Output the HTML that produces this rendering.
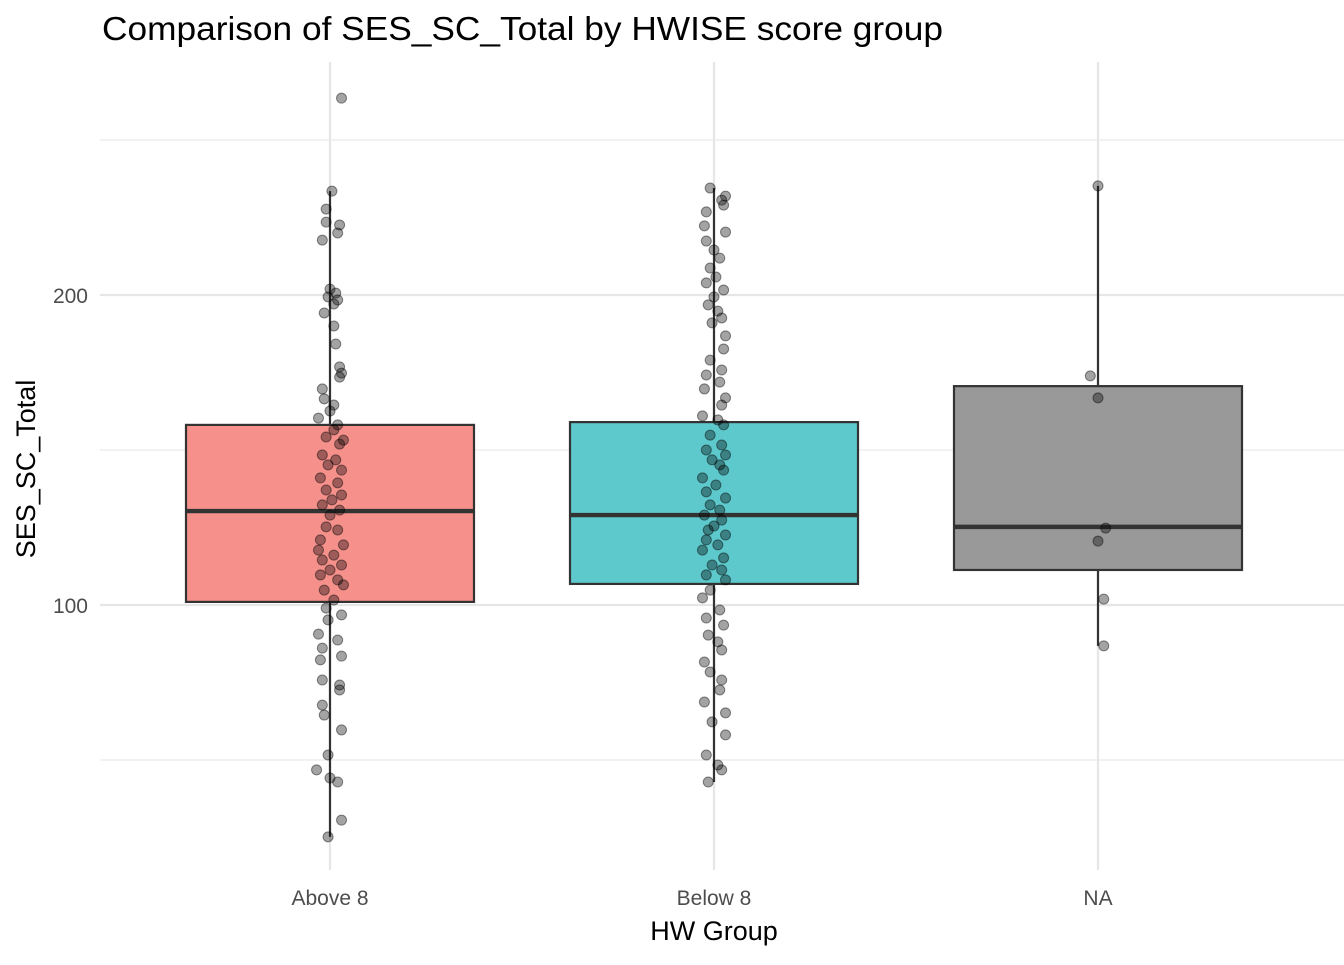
<!DOCTYPE html>
<html><head><meta charset="utf-8"><style>
body{margin:0;background:#fff;}
svg text{font-family:"Liberation Sans",Arial,sans-serif;}
</style></head><body>
<svg id="chart" width="1344" height="960" xmlns="http://www.w3.org/2000/svg">
<text x="102" y="40" font-size="33" fill="#000" textLength="841" lengthAdjust="spacingAndGlyphs">Comparison of SES_SC_Total by HWISE score group</text>
<g id="grid"></g><g id="boxes"></g><g id="points"></g><g id="axes"></g>
<text x="714" y="940" font-size="27" text-anchor="middle" fill="#000">HW Group</text>
<text transform="translate(35,469) rotate(-90)" font-size="27" text-anchor="middle" fill="#000">SES_SC_Total</text>
</svg>
<script>
const categories=["Above 8","Below 8","NA"];
const boxFills=["#f6908b","#5dc9cc","#999999"];
const q1=[101,106.8,111.3];
const medians=[130.3,129,125.2];
const q3=[158.1,159,170.6];
const whiskLo=[25.2,42.9,86.8];
const whiskHi=[233.5,234.5,235.2];
const yTicks=[100,200];
const yMinor=[50,150,250];
const pts0=[263.5,233.5,227.7,223.5,222.6,220,217.7,201.9,200.6,199.4,198.4,197.1,194.2,190,184.2,176.8,174.8,173.5,169.7,166.5,164.5,162.6,160.3,158.1,156.5,154.2,153.2,151.9,148.4,146.8,145.2,143.5,141,139.4,137.1,135.5,133.9,132.3,130.6,129,125.2,124.2,121,119.4,117.7,116.1,114.5,112.9,111.3,109.7,108.1,106.5,104.8,101.6,99,96.8,95.2,90.6,88.7,86.1,83.5,82.3,75.8,74.2,72.6,67.7,64.5,59.7,51.6,46.8,44.2,42.9,30.6,25.2];
const pts1=[234.5,231.9,230.6,229,226.8,222.3,220.3,217.4,214.5,211.9,208.7,205.8,203.9,201.6,199.4,196.8,194.8,192.6,191,186.8,182.6,179,175.8,174.2,171.9,169.7,166.8,164.5,161,159.7,158.1,154.8,151.6,150,148.4,146.8,145.2,143.5,141,138.7,136.5,134.5,132.3,130.6,129,127.4,125.5,124.2,122.6,121,119.4,117.7,115.2,112.9,111.3,109.7,108.1,104.8,102.3,98.4,95.8,93.5,90.3,88.1,85.5,81.6,78.4,75.8,72.6,68.7,65.2,62.3,58.1,51.6,48.4,46.8,42.9];
const pts2=[235.2,173.9,166.8,124.8,120.6,101.9,86.8];
const jit0=[0.03,0.005,-0.01,-0.01,0.025,0.02,-0.02,0.0,0.015,-0.005,0.02,0.01,-0.015,0.01,0.015,0.025,0.03,0.025,-0.02,-0.015,0.01,0.0,-0.03,0.02,0.01,-0.01,0.035,0.025,-0.02,0.015,-0.005,0.03,-0.025,0.02,-0.01,0.03,0.005,-0.02,0.025,0.0,-0.01,0.02,-0.025,0.035,-0.03,0.01,-0.02,0.03,0.0,-0.025,0.02,0.035,-0.015,0.01,-0.01,0.03,-0.005,-0.03,0.02,-0.02,0.03,-0.025,-0.02,0.025,0.025,-0.02,-0.015,0.03,-0.005,-0.035,0.0,0.02,0.03,-0.005];
const jit1=[-0.01,0.03,0.02,0.025,-0.02,-0.025,0.03,-0.02,0.0,0.015,-0.01,0.005,-0.02,0.025,0.0,-0.015,0.01,0.02,-0.005,0.03,0.025,-0.01,0.02,-0.02,0.015,-0.025,0.03,0.02,-0.03,0.01,0.025,-0.01,0.02,-0.02,0.03,-0.005,0.015,0.025,-0.03,0.005,-0.02,0.03,-0.01,0.015,-0.025,0.02,0.0,-0.015,0.03,-0.02,0.01,-0.03,0.025,-0.005,0.02,-0.02,0.03,-0.01,-0.03,0.015,-0.02,0.025,-0.015,0.01,0.02,-0.025,-0.01,0.02,0.015,-0.025,0.03,-0.005,0.03,-0.02,0.01,0.02,-0.015];
const jit2=[0.0,-0.02,0.0,0.02,0.0,0.015,0.015];
const pts=[pts0,pts1,pts2], jits=[jit0,jit1,jit2];
const NS="http://www.w3.org/2000/svg";
const X0=100,X1=1344,Y0=62,Y1=870;
const xS=i=>330+i*384;
const yS=v=>605-(v-100)*3.1;
const bw=144;
function mk(tag,attrs,parent){const e=document.createElementNS(NS,tag);for(const k in attrs)e.setAttribute(k,attrs[k]);document.getElementById(parent).appendChild(e);return e;}
yMinor.forEach(v=>{const l=mk('line',{x1:X0,x2:X1,y1:yS(v),y2:yS(v),stroke:'#ebebeb','stroke-width':1.2},'grid');

});
yTicks.forEach(v=>{const l=mk('line',{x1:X0,x2:X1,y1:yS(v),y2:yS(v),stroke:'#e6e6e6','stroke-width':2.2},'grid');


const t=mk('text',{x:88,y:yS(v)+8,'font-size':21,'text-anchor':'end',fill:'#4d4d4d'},'axes');t.textContent=v;

});
categories.forEach((c,i)=>{const l=mk('line',{x1:xS(i),x2:xS(i),y1:Y0,y2:Y1,stroke:'#e6e6e6','stroke-width':2.2},'grid');


const t=mk('text',{x:xS(i),y:905,'font-size':21,'text-anchor':'middle',fill:'#4d4d4d'},'axes');t.textContent=c;


const g=mk('g',{},'boxes');g.id='box'+i;


const w1=mk('line',{x1:xS(i),x2:xS(i),y1:yS(whiskHi[i]),y2:yS(q3[i]),stroke:'#333','stroke-width':2.2},g.id);


const w2=mk('line',{x1:xS(i),x2:xS(i),y1:yS(q1[i]),y2:yS(whiskLo[i]),stroke:'#333','stroke-width':2.2},g.id);


const r=mk('rect',{x:xS(i)-bw,y:yS(q3[i]),width:2*bw,height:yS(q1[i])-yS(q3[i]),fill:boxFills[i],stroke:'#333','stroke-width':2.2},g.id);


const m=mk('line',{x1:xS(i)-bw,x2:xS(i)+bw,y1:yS(medians[i]),y2:yS(medians[i]),stroke:'#333','stroke-width':4.4},g.id);


pts[i].forEach((v,k)=>{const p=mk('circle',{cx:xS(i)+jits[i][k]*384,cy:yS(v),r:5,fill:'#000','fill-opacity':0.36,stroke:'#000','stroke-opacity':0.45,'stroke-width':1},'points');

});
});
</script>
</body></html>
